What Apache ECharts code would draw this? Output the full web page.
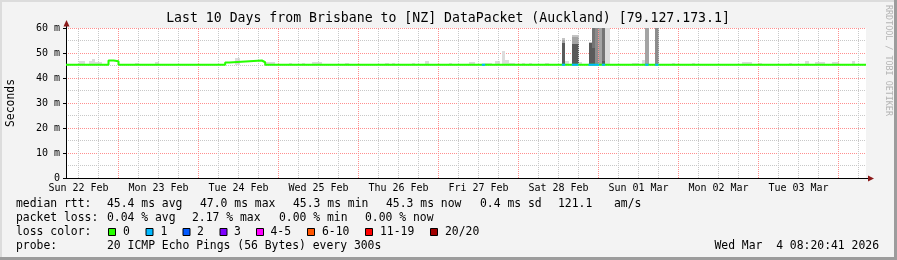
<!DOCTYPE html>
<html><head><meta charset="utf-8">
<script src="https://cdn.jsdelivr.net/npm/echarts@6/dist/echarts.min.js"></script>
<style>html,body{margin:0;padding:0;background:#f3f3f3;}#c{width:897px;height:260px;}</style>
</head><body><div id="c"></div>
<script>
// ---------- data (x = hours since Sun 22 Feb 00:00, y = milliseconds) ----------
const titleText = 'Last 10 Days from Brisbane to [NZ] DataPacket (Auckland) [79.127.173.1]';
const xMin = 8.25, xMax = 248.25;
const dayLabels = ['Sun 22 Feb','Mon 23 Feb','Tue 24 Feb','Wed 25 Feb','Thu 26 Feb','Fri 27 Feb','Sat 28 Feb','Sun 01 Mar','Mon 02 Mar','Tue 03 Mar'];
const dayLabelHours = [12,36,60,84,108,132,156,180,204,228];
const dayBoundaryHours = [24,48,72,96,120,144,168,192,216,240];
const sixHourHours = [12,18,30,36,42,54,60,66,78,84,90,102,108,114,126,132,138,150,156,162,174,180,186,198,204,210,222,228,234,246];
const yTicks = [0,10,20,30,40,50,60];
const yTickLabels = ['0','10 m','20 m','30 m','40 m','50 m','60 m'];

// median rtt (step, value holds until next time)
const medianTimes  = [8.25, 21, 22.5, 24, 56, 57.2, 67, 68, 248.25];
const medianValues = [45.3, 47.0, 46.7, 45.3, 46.2, 47.0, 46.3, 45.3, 45.3];

// spans where 1 of 20 pings was lost (median drawn in loss colour 1)
const lossOneSpans = [[133,134],[157,158],[160,162],[165,168.2],[169,170],[182,183],[185,186]];
const lossOneMedian = 45.3;

// smoke: [start hour, end hour, low ms, high ms]
const smokeFaint = [
  [12,14,45.3,46.8],[15,16,45.3,46.8],[16,17,45.3,47.5],[17,18,45.3,46.6],[18,19,45.3,46.3],
  [29,30,45.3,46.1],[35,36,45.3,46.3],[59,60.5,45.3,47.9],[68,71,45.3,46.4],[75,76,45.3,46.1],
  [79,80,45.3,46.1],[82,85,45.3,46.3],[92,93,45.3,46.1],[104,105,45.3,46.1],[106,107,45.3,46.1],
  [112,113,45.3,46.1],[116,117,45.3,46.8],[123,124,45.3,46.1],[129,131,45.3,46.3],[134,136,45.3,46.1],
  [137,138.5,45.3,46.8],[139,140,45.3,50.8],[140,141,45.3,47.2],[141,143,45.3,46.1],[145,146,45.3,46.1],
  [147,148,45.3,46.1],[152,153,45.3,46.1],[158,159,45.3,47.0],[162,163,45.3,46.5],[170,171.5,45.3,60],
  [178,180,45.3,46.1],[181,182,45.3,47.2],[190,191,45.3,46.1],[196,197,45.3,46.1],[211,214,45.3,46.3],
  [216,217,45.3,46.1],[225,226,45.3,46.1],[230,231,45.3,46.8],[233,236,45.3,46.3],[238,240,45.3,46.3],
  [244,245,45.3,46.8]
];
const smokeLight    = [[157,158,55.2,56.0],[160,162,56.4,57.2],[165,166,54.0,54.4]];
const smokeMidLight = [[157,158,54.0,55.2],[160,162,53.7,56.4],[168,169,45.3,60],[182,183,45.3,60]];
const smokeMid      = [[167,168,45.3,60],[185,186,45.3,60]];
const smokeMidDark  = [[166,167,52.0,60],[169,170,47.0,60]];
const smokeDark     = [[157,158,45.3,54.0],[160,162,45.3,53.7],[165,166,45.3,54.0],[166,167,45.3,52.0],[169,170,45.3,47.0]];

// legend texts
const rttStats  = ['45.4 ms avg','47.0 ms max','45.3 ms min','45.3 ms now','0.4 ms sd','121.1','am/s'];
const lossStats = ['0.04 % avg','2.17 % max','0.00 % min','0.00 % now'];
const lossColorLabels = ['0','1','2','3','4-5','6-10','11-19','20/20'];
const lossColors = ['#26ff00','#00b8ff','#0059ff','#7e00ff','#ff00ff','#ff5500','#ff0000','#a10000'];
const probeText = '20 ICMP Echo Pings (56 Bytes) every 300s';
const dateText = 'Wed Mar  4 08:20:41 2026';

// ---------- layout ----------
const FONT = '"DejaVu Sans Mono", monospace';
const rttX = [107,200,293,386,480,558,614];
const lossX = [107,192,279,365];
const boxX = [108,145.5,182.5,219.5,256,307,365,430];
const boxLabelX = [123,160.5,197,234,270.5,322,380,445];
const rowY = [204,218,232,246];

const chart = echarts.init(document.getElementById('c'), null, {renderer:'canvas'});

function smokeSeries(data, color) {
  return {
    type: 'custom', z: 1, silent: true, clip: true, animation: false,
    encode: {x: [0,1], y: [2,3]},
    data: data,
    renderItem: function (params, api) {
      const p0 = api.coord([api.value(0), api.value(2)]);
      const p1 = api.coord([api.value(1), api.value(3)]);
      const x0 = Math.round(p0[0]), x1 = Math.round(p1[0]);
      const y0 = Math.round(p0[1]), y1 = Math.round(p1[1]);
      const cs = params.coordSys;
      const shape = echarts.graphic.clipRectByRect(
        {x: x0, y: y1, width: x1 - x0, height: y0 - y1},
        {x: cs.x, y: cs.y, width: cs.width, height: cs.height});
      return shape && {type: 'rect', shape: shape, style: {fill: color}};
    }
  };
}

const medianData = medianTimes.map((t, i) => [t, medianValues[i]]);
const lossOneData = [];
lossOneSpans.forEach(s => { lossOneData.push([s[0], lossOneMedian], [s[1], lossOneMedian], [s[1], null]); });

const gridLines = [];
sixHourHours.forEach(h => gridLines.push({xAxis: h, lineStyle: {color: '#c8c8c8', type: [1,1], width: 1}}));
dayBoundaryHours.forEach(h => gridLines.push({xAxis: h, lineStyle: {color: '#ff8f8f', type: [1,1], width: 1}}));

const graphics = [];
function txt(x, y, text, opts) {
  graphics.push(Object.assign({type: 'text', x: x, y: y, silent: true,
    style: Object.assign({text: text, font: '11.4px ' + FONT, fill: '#000', verticalAlign: 'middle', align: 'left'}, opts || {})}));
}
// frame
graphics.push({type:'rect', shape:{x:0,y:0,width:897,height:2}, style:{fill:'#dcdcdc'}, silent:true});
graphics.push({type:'rect', shape:{x:0,y:0,width:2,height:260}, style:{fill:'#dcdcdc'}, silent:true});
graphics.push({type:'rect', shape:{x:0,y:257,width:897,height:3}, style:{fill:'#9c9c9c'}, silent:true});
graphics.push({type:'rect', shape:{x:894,y:0,width:3,height:260}, style:{fill:'#9c9c9c'}, silent:true});
// title
graphics.push({type:'text', x: 448, y: 19, silent:true,
  style:{text: titleText, font: '13.2px ' + FONT, fill:'#000', align:'center', verticalAlign:'middle'}});
// y-axis name
graphics.push({type:'text', x: 11, y: 103, rotation: Math.PI/2, silent:true,
  style:{text: 'Seconds', font: '11.4px ' + FONT, fill:'#000', align:'center', verticalAlign:'middle'}});
// watermark
graphics.push({type:'text', x: 888, y: 5, rotation: -Math.PI/2, silent:true,
  style:{text: 'RRDTOOL / TOBI OETIKER', font: '8.4px ' + FONT, fill:'#b4b4b4', align:'left', verticalAlign:'middle'}});
// axis extensions and arrows
graphics.push({type:'line', shape:{x1:66.5,y1:22,x2:66.5,y2:28}, style:{stroke:'#000',lineWidth:1}, silent:true});
graphics.push({type:'polygon', shape:{points:[[66.5,20],[63.5,26.5],[69.5,26.5]]}, style:{fill:'#8b1a1a'}, silent:true});
graphics.push({type:'line', shape:{x1:866,y1:178.5,x2:870,y2:178.5}, style:{stroke:'#000',lineWidth:1}, silent:true});
graphics.push({type:'polygon', shape:{points:[[874,178.5],[868,175.5],[868,181.5]]}, style:{fill:'#8b1a1a'}, silent:true});
// legend
txt(16, rowY[0], 'median rtt:');
rttStats.forEach((s, i) => txt(rttX[i], rowY[0], s));
txt(16, rowY[1], 'packet loss:');
lossStats.forEach((s, i) => txt(lossX[i], rowY[1], s));
txt(16, rowY[2], 'loss color:');
lossColorLabels.forEach((s, i) => {
  graphics.push({type:'rect', shape:{x: boxX[i] + 0.5, y: rowY[2] - 3.5, width: 7, height: 7},
    style:{fill: lossColors[i], stroke:'#000', lineWidth:1}, silent:true});
  txt(boxLabelX[i], rowY[2], s);
});
txt(16, rowY[3], 'probe:');
txt(107, rowY[3], probeText);
txt(879, rowY[3], dateText, {align: 'right'});

chart.setOption({
  animation: false,
  backgroundColor: '#f3f3f3',
  grid: {left: 66, top: 28, width: 800, height: 150, show: true, backgroundColor: '#ffffff', borderWidth: 0, containLabel: false},
  xAxis: {
    type: 'value', min: xMin, max: xMax,
    axisLine: {show: true, lineStyle: {color: '#000', width: 1}},
    axisTick: {show: false},
    splitLine: {show: false},
    axisLabel: {
      customValues: dayLabelHours,
      margin: 5, color: '#000', fontFamily: 'DejaVu Sans Mono', fontSize: 10,
      formatter: v => { const i = dayLabelHours.indexOf(Math.round(v)); return i >= 0 ? dayLabels[i] : ''; }
    }
  },
  yAxis: {
    type: 'value', min: 0, max: 60, interval: 10,
    axisLine: {show: true, lineStyle: {color: '#000', width: 1}},
    axisTick: {show: true, length: 3, lineStyle: {color: '#000'}},
    axisLabel: {margin: 6, color: '#000', fontFamily: 'DejaVu Sans Mono', fontSize: 10,
      formatter: v => { const i = yTicks.indexOf(v); return i >= 0 ? yTickLabels[i] : ''; }},
    splitLine: {show: true, lineStyle: {color: '#ff8f8f', type: [1,1], width: 1}},
    minorTick: {show: false, splitNumber: 2},
    minorSplitLine: {show: true, lineStyle: {color: '#c8c8c8', type: [1,1], width: 1}}
  },
  graphic: {elements: graphics},
  series: [
    smokeSeries(smokeFaint, '#dcdcdc'),
    smokeSeries(smokeLight, '#c4c4c4'),
    smokeSeries(smokeMidLight, '#a4a4a4'),
    smokeSeries(smokeMid, '#8c8c8c'),
    smokeSeries(smokeMidDark, '#747474'),
    smokeSeries(smokeDark, '#5a5a5a'),
    {
      type: 'line', z: 2, data: [[xMin, 0]], showSymbol: false, silent: true,
      lineStyle: {opacity: 0},
      markLine: {z: 2, silent: true, symbol: ['none','none'], label: {show: false}, animation: false, data: gridLines}
    },
    {
      type: 'line', z: 3, step: 'end', data: medianData, showSymbol: false, silent: true,
      lineStyle: {color: lossColors[0], width: 2}
    },
    {
      type: 'line', z: 4, data: lossOneData, showSymbol: false, silent: true, connectNulls: false,
      lineStyle: {color: lossColors[1], width: 2}
    }
  ]
});
</script>
</body></html>
